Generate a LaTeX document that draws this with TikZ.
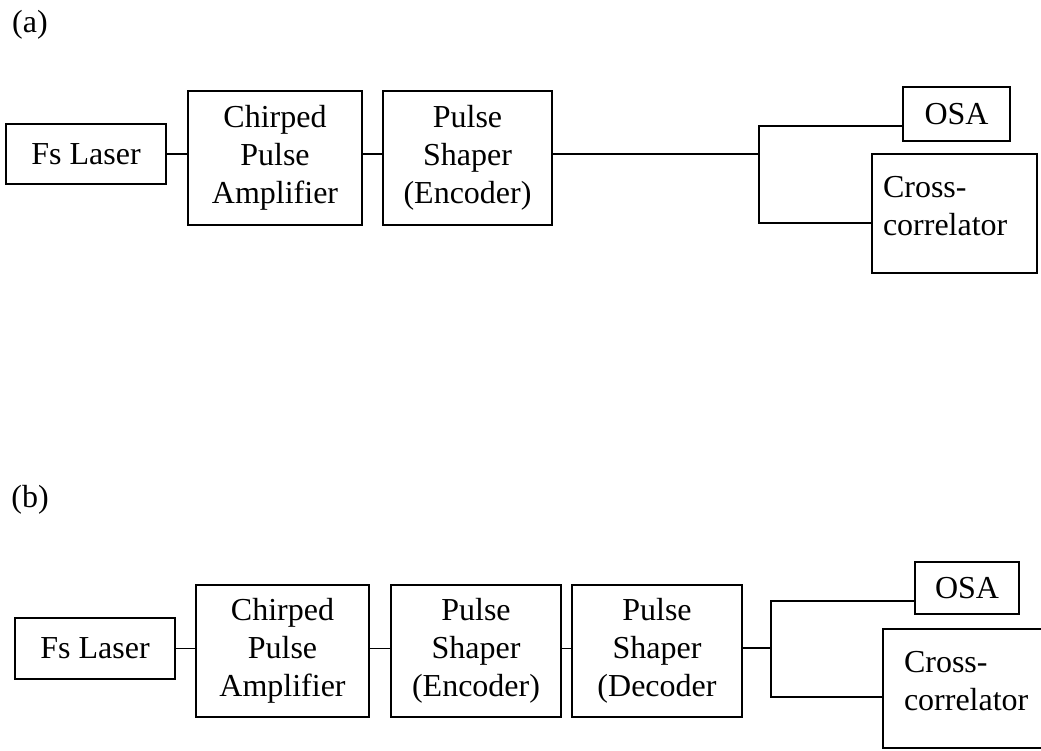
\documentclass[tikz,border=0pt]{standalone}
\usepackage{fontspec}
\setmainfont{Liberation Serif}
\begin{document}
\begin{tikzpicture}[x=1pt,y=-1pt,
  blk/.style={draw,line width=1.8pt,inner sep=0pt,align=center,font=\fontsize{32}{38}\selectfont},
  ccbox/.style={blk,align=left,minimum height=119,text depth=54pt},
  wire/.style={line width=1.8pt},
  tag/.style={inner sep=0pt,font=\fontsize{32}{38}\selectfont}]
\useasboundingbox (0,0) rectangle (1041,750);
\clip (0,0) rectangle (1041,750);

% ---------- (a) ----------
\node[tag] (la) at (30,25) {(a)};
\node[blk,minimum width=160,minimum height=60] (fsA) at (86,154) {Fs Laser};
\node[blk,minimum width=174,minimum height=134] (cpaA) at (275,158) {Chirped\\Pulse\\Amplifier};
\node[blk,minimum width=169,minimum height=134] (psA) at (467.5,158) {Pulse\\Shaper\\(Encoder)};
\node[blk,minimum width=107,minimum height=54] (osaA) at (956.5,114) {OSA};
\node[ccbox,text width=143,inner xsep=11] (ccA) at (954.5,213.5) {Cross-\\correlator};

\coordinate (jA) at (759,154);
\coordinate (jAt) at (759,126);
\coordinate (jAb) at (759,223);
\draw[wire] (fsA.east) -- (fsA.east -| cpaA.west);
\draw[wire] (fsA.east -| cpaA.east) -- (fsA.east -| psA.west);
\draw[wire] (jA -| psA.east) -- (jA);
\draw[wire] (jAt -| osaA.west) -- (jAt) -- (jAb) -- (jAb -| ccA.west);

% ---------- (b) ----------
\node[tag] (lb) at (30,500) {(b)};
\node[blk,minimum width=160,minimum height=61] (fsB) at (95,648.5) {Fs Laser};
\node[blk,minimum width=173,minimum height=132] (cpaB) at (282.5,651) {Chirped\\Pulse\\Amplifier};
\node[blk,minimum width=170,minimum height=132] (encB) at (476,651) {Pulse\\Shaper\\(Encoder)};
\node[blk,minimum width=170,minimum height=132] (decB) at (657,651) {Pulse\\Shaper\\(Decoder};
\node[blk,minimum width=104,minimum height=52] (osaB) at (967,588) {OSA};
\node[ccbox,text width=123,inner xsep=21] (ccB) at (965.5,688.5) {Cross-\\correlator};

\coordinate (jB) at (771,648);
\coordinate (jBt) at (771,601);
\coordinate (jBb) at (771,697);
\draw[wire] (fsB.east) -- (fsB.east -| cpaB.west);
\draw[wire] (fsB.east -| cpaB.east) -- (fsB.east -| encB.west);
\draw[wire] (fsB.east -| encB.east) -- (fsB.east -| decB.west);
\draw[wire] (jB -| decB.east) -- (jB);
\draw[wire] (jBt -| osaB.west) -- (jBt) -- (jBb) -- (jBb -| ccB.west);
\end{tikzpicture}
\end{document}
